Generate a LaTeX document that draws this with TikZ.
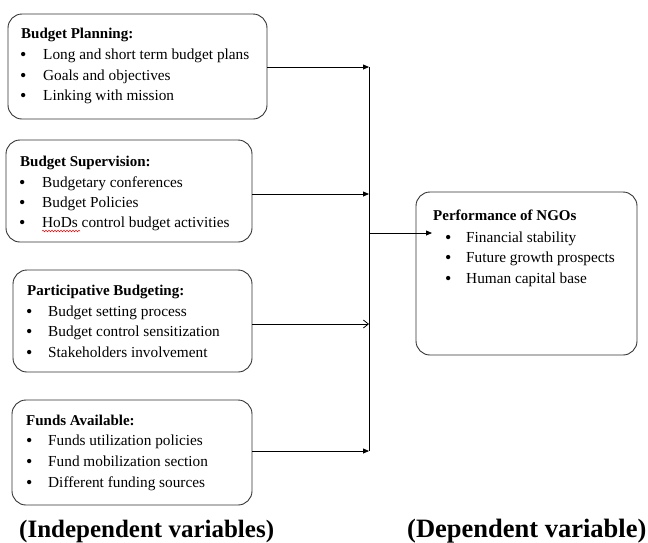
\documentclass[tikz,border=0pt]{standalone}
\usepackage{fontspec}
\setmainfont{Liberation Serif}
\usetikzlibrary{arrows.meta,decorations.pathmorphing}
\begin{document}
\begin{tikzpicture}[x=1pt,y=-1pt,
  box/.style={draw=black!80, line width=0.9pt, rounded corners=14pt, inner sep=0pt},
  txt/.style={anchor=base west, inner sep=0pt, font=\fontsize{15.3}{17}\selectfont},
  hdr/.style={anchor=base west, inner sep=0pt, font=\fontsize{15}{17}\selectfont\bfseries},
  bul/.style={anchor=base west, inner sep=0pt, font=\fontsize{18}{17}\selectfont},
  lbl/.style={anchor=base west, inner sep=0pt, font=\fontsize{25}{28}\selectfont\bfseries},
  conn/.style={line width=0.8pt},
  fh/.style={conn,-{Triangle[length=6pt,width=5pt]}},
  oh/.style={conn,-{Straight Barb[length=5pt,width=8pt]}}]
\useasboundingbox (0,0) rectangle (648,542);
% boxes
\node[box, minimum width=259pt, minimum height=105pt] (b1) at (137.5,66.5) {};
\node[box, minimum width=246pt, minimum height=102pt] (b2) at (129,191) {};
\node[box, minimum width=239pt, minimum height=102pt] (b3) at (132.5,321) {};
\node[box, minimum width=240pt, minimum height=105pt] (b4) at (132,452.5) {};
\node[box, minimum width=221pt, minimum height=163pt] (nb) at (526.5,273.5) {};
% box 1 text
\node[hdr] (h1) at (21,38) {Budget Planning:};
\node[bul] (p11) at (20,60) {\textbullet};
\node[txt] (t11) at (43,59) {Long and short term budget plans};
\node[bul] (p12) at (20,81) {\textbullet};
\node[txt] (t12) at (43,80) {Goals and objectives};
\node[bul] (p13) at (20,101) {\textbullet};
\node[txt] (t13) at (43,100) {Linking with mission};
% box 2 text
\node[hdr] (h2) at (20,166) {Budget Supervision:};
\node[bul] (p21) at (19,188) {\textbullet};
\node[txt] (t21) at (42,187) {Budgetary conferences};
\node[bul] (p22) at (19,208) {\textbullet};
\node[txt] (t22) at (42,207) {Budget Policies};
\node[bul] (p23) at (19,228) {\textbullet};
\node[txt] (t23) at (42,227) {HoDs control budget activities};
\coordinate (w1) at (42,231);
\coordinate (w2) at (80,231);
\draw[red, line width=0.5pt, decorate, decoration={snake, amplitude=0.8pt, segment length=3pt}] (w1) -- (w2);
% box 3 text
\node[hdr] (h3) at (27,295) {Participative Budgeting:};
\node[bul] (p31) at (26,317) {\textbullet};
\node[txt] (t31) at (48,316) {Budget setting process};
\node[bul] (p32) at (26,337) {\textbullet};
\node[txt] (t32) at (48,336) {Budget control sensitization};
\node[bul] (p33) at (26,358) {\textbullet};
\node[txt] (t33) at (48,357) {Stakeholders involvement};
% box 4 text
\node[hdr] (h4) at (26,425) {Funds Available:};
\node[bul] (p41) at (26,446) {\textbullet};
\node[txt] (t41) at (48,445) {Funds utilization policies};
\node[bul] (p42) at (26,467) {\textbullet};
\node[txt] (t42) at (48,466) {Fund mobilization section};
\node[bul] (p43) at (26,488) {\textbullet};
\node[txt] (t43) at (48,487) {Different funding sources};
% right box text
\node[hdr] (h5) at (433,220) {Performance of NGOs};
\node[bul] (p51) at (445,243) {\textbullet};
\node[txt] (t51) at (466,242) {Financial stability};
\node[bul] (p52) at (445,263) {\textbullet};
\node[txt] (t52) at (466,262) {Future growth prospects};
\node[bul] (p53) at (445,284) {\textbullet};
\node[txt] (t53) at (466,283) {Human capital base};
% labels
\node[lbl] (l1) at (19,537) {(Independent variables)};
\node[lbl, font=\fontsize{26.5}{28}\selectfont\bfseries] (l2) at (407,537) {(Dependent variable)};
% connectors
\coordinate (j1) at (369,67);
\coordinate (j2) at (369,194);
\coordinate (j3) at (369,324);
\coordinate (j4) at (369,451);
\coordinate (j5) at (369,233);
\coordinate (tg) at (432,233);
\draw[conn] (j1) -- (j4);
\draw[fh] (b1.east |- j1) -- (j1);
\draw[fh] (b2.east |- j2) -- (j2);
\draw[oh] (b3.east |- j3) -- (j3);
\draw[fh] (b4.east |- j4) -- (j4);
\draw[fh] (j5) -- (tg);
\end{tikzpicture}
\end{document}
